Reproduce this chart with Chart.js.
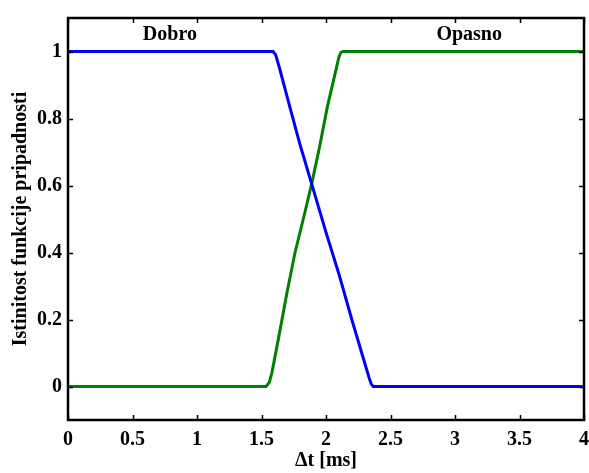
<!DOCTYPE html>
<html>
<head>
<meta charset="utf-8">
<script src="https://cdn.jsdelivr.net/npm/chart.js@4/dist/chart.umd.min.js"></script>
<style>
  html, body { margin: 0; padding: 0; background: #fff; }
  #wrap { width: 589px; height: 473px; }
</style>
</head>
<body>
<div id="wrap"><canvas id="fuzzyChart" width="589" height="473"></canvas></div>
<script>
// membership curves
const dobroX = [0, 1.59, 1.61, 1.64, 1.72, 1.8, 1.889, 2.0, 2.1, 2.2, 2.3, 2.335, 2.35, 2.365, 4];
const dobroY = [1, 1, 0.99, 0.95, 0.834, 0.72, 0.605, 0.46, 0.336, 0.2, 0.07, 0.025, 0.008, 0, 0];
const opasnoX = [0, 1.535, 1.56, 1.58, 1.63, 1.7, 1.76, 1.824, 1.889, 1.95, 2.01, 2.07, 2.1, 2.115, 2.13, 4];
const opasnoY = [0, 0, 0.012, 0.04, 0.14, 0.285, 0.4, 0.5, 0.605, 0.715, 0.834, 0.933, 0.983, 0.997, 1, 1];

const xTicks = [0, 0.5, 1, 1.5, 2, 2.5, 3, 3.5, 4];
const yTicks = [0, 0.2, 0.4, 0.6, 0.8, 1];

// text labels inside the plot (data coordinates)
const labelNames = ['Dobro', 'Opasno'];
const labelX = [0.79, 3.11];
const labelY = [1.05, 1.05];

const font = '"Liberation Serif", "Times New Roman", serif';

function toPoints(xs, ys) {
    return xs.map((x, i) => ({ x: x, y: ys[i] }));
}

// MATLAB-like box with inward ticks plus the two text labels
const boxPlugin = {
    id: 'boxPlugin',
    afterDraw(chart) {
        const ctx = chart.ctx;
        const a = chart.chartArea;
        const xs = chart.scales.x;
        const ys = chart.scales.y;
        ctx.save();
        ctx.strokeStyle = '#000';
        ctx.lineWidth = 2.5;
        ctx.strokeRect(a.left, a.top, a.right - a.left, a.bottom - a.top);
        const len = 5;
        ctx.beginPath();
        xTicks.forEach(v => {
            const px = Math.round(xs.getPixelForValue(v)) + 0.5;
            ctx.moveTo(px, a.bottom); ctx.lineTo(px, a.bottom - len);
            ctx.moveTo(px, a.top); ctx.lineTo(px, a.top + len);
        });
        yTicks.forEach(v => {
            const py = Math.round(ys.getPixelForValue(v)) + 0.5;
            ctx.moveTo(a.left, py); ctx.lineTo(a.left + len, py);
            ctx.moveTo(a.right, py); ctx.lineTo(a.right - len, py);
        });
        ctx.lineWidth = 1.5;
        ctx.stroke();

        ctx.fillStyle = '#000';
        ctx.font = 'bold 20px ' + font;
        ctx.textAlign = 'center';
        ctx.textBaseline = 'middle';
        labelNames.forEach((t, i) => {
            ctx.fillText(t, xs.getPixelForValue(labelX[i]), ys.getPixelForValue(labelY[i]));
        });
        ctx.restore();
    }
};

function renderChart() {
    const ctx = document.getElementById('fuzzyChart').getContext('2d');
    new Chart(ctx, {
        type: 'line',
        data: {
            datasets: [{
                label: 'Dobro',
                data: toPoints(dobroX, dobroY),
                borderColor: '#0000ff',
                borderWidth: 3,
                pointRadius: 0,
                tension: 0,
                fill: false
            }, {
                label: 'Opasno',
                data: toPoints(opasnoX, opasnoY),
                borderColor: '#008000',
                borderWidth: 3,
                pointRadius: 0,
                tension: 0,
                fill: false
            }]
        },
        options: {
            responsive: false,
            animation: false,
            layout: { padding: { top: 16, right: 5, left: 0, bottom: 0 } },
            plugins: {
                legend: { display: false },
                tooltip: { enabled: false }
            },
            scales: {
                x: {
                    type: 'linear',
                    min: 0,
                    max: 4,
                    afterBuildTicks: s => { s.ticks = xTicks.map(v => ({ value: v })); },
                    afterFit: s => { s.height = 53; s.paddingLeft = 0; s.paddingRight = 0; },
                    grid: { display: false, drawTicks: false },
                    border: { display: false },
                    ticks: {
                        color: '#000',
                        padding: 8,
                        font: { family: font, size: 20, weight: 'bold' },
                        callback: v => String(v)
                    },
                    title: {
                        display: true,
                        text: '\u0394t [ms]',
                        color: '#000',
                        padding: { top: 0, bottom: 0 },
                        font: { family: font, size: 20, weight: 'bold' }
                    }
                },
                y: {
                    min: -0.1,
                    max: 1.1,
                    afterBuildTicks: s => { s.ticks = yTicks.map(v => ({ value: v })); },
                    afterFit: s => { s.width = 68; },
                    grid: { display: false, drawTicks: false },
                    border: { display: false },
                    ticks: {
                        color: '#000',
                        padding: 6,
                        font: { family: font, size: 20, weight: 'bold' },
                        callback: v => String(v)
                    },
                    title: {
                        display: true,
                        text: 'Istinitost funkcije pripadnosti',
                        color: '#000',
                        padding: { top: 9, bottom: 0 },
                        font: { family: font, size: 20, weight: 'bold' }
                    }
                }
            }
        },
        plugins: [boxPlugin]
    });
}

renderChart();
</script>
</body>
</html>
